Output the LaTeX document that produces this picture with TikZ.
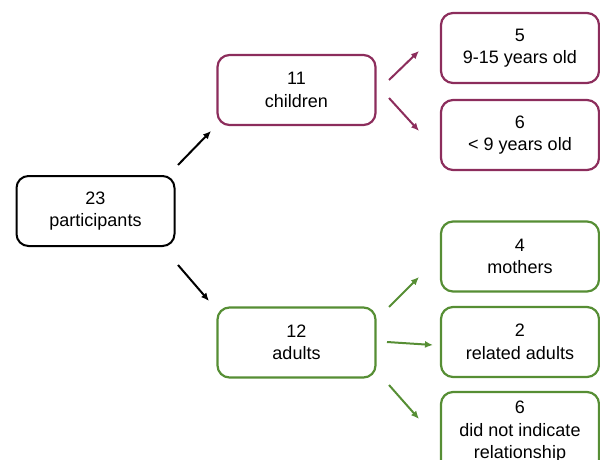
\documentclass[tikz,border=0pt]{standalone}
\usepackage{fontspec}
\setmainfont{Liberation Sans}
\usetikzlibrary{arrows.meta}
\definecolor{plum}{RGB}{140,45,92}
\definecolor{leaf}{RGB}{86,142,52}
\tikzset{
  box/.style={draw, rounded corners=12pt, minimum width=158pt, minimum height=70pt,
    inner sep=0pt, align=center, font=\fontsize{18}{22.5}\selectfont, line width=2.2pt},
  blackbox/.style={box, draw=black, line width=2pt},
  plumbox/.style={box, draw=plum},
  leafbox/.style={box, draw=leaf},
  conn/.style={line width=2pt, -{Latex[length=8pt,width=7pt]}},
}
\begin{document}
\begin{tikzpicture}[x=1pt,y=-1pt]
\useasboundingbox (0,0) rectangle (600,460);
\clip (0,0) rectangle (600,460);
\node[blackbox] (p) at (95.5,211) {23\\participants};
\node[plumbox] (c) at (296.5,90) {11\\children};
\node[leafbox] (a) at (296.5,342.5) {12\\adults};
\node[plumbox] (k5) at (520,48) {5\\9-15 years old};
\node[plumbox] (k6) at (520,135) {6\\< 9 years old};
\node[leafbox] (m4) at (520,256.5) {4\\mothers};
\node[leafbox] (r2) at (520,342) {2\\related adults};
\node[leafbox, minimum height=80pt] (d6) at (520,432) {6\\did not indicate\\relationship};
\coordinate (pc1) at (178,165); \coordinate (pc2) at (211,131);
\coordinate (pa1) at (178,265); \coordinate (pa2) at (209,301);
\coordinate (c51) at (389,80); \coordinate (c52) at (419,51);
\coordinate (c61) at (389,98); \coordinate (c62) at (419,131);
\coordinate (a41) at (389,307); \coordinate (a42) at (419,277);
\coordinate (a21) at (387,342); \coordinate (a22) at (433,345);
\coordinate (a61) at (389,385); \coordinate (a62) at (419,419);
\draw[conn, black] (pc1) -- (pc2);
\draw[conn, black] (pa1) -- (pa2);
\draw[conn, plum] (c51) -- (c52);
\draw[conn, plum] (c61) -- (c62);
\draw[conn, leaf] (a41) -- (a42);
\draw[conn, leaf] (a21) -- (a22);
\draw[conn, leaf] (a61) -- (a62);
\end{tikzpicture}
\end{document}
